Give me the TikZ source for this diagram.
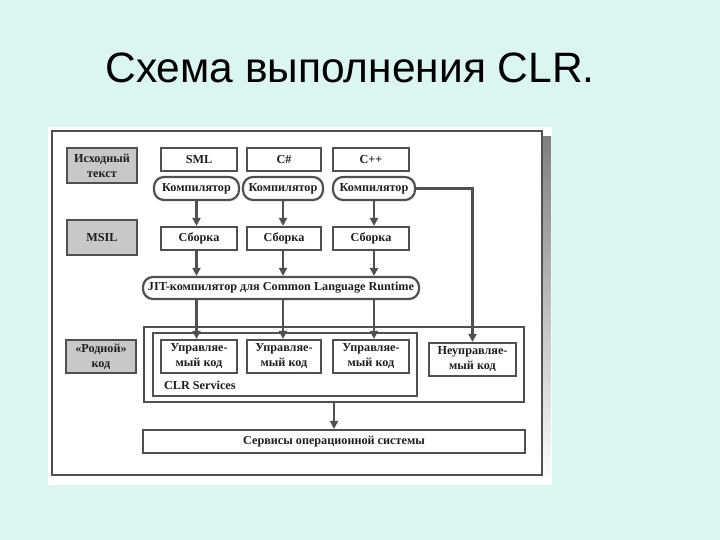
\documentclass[tikz,border=0pt]{standalone}
\usepackage{fontspec}
\setmainfont{Liberation Serif}
\newfontfamily\titlefont{Liberation Sans}
\usetikzlibrary{arrows.meta}
\definecolor{bg}{HTML}{DCF4F2}
\definecolor{line}{HTML}{505050}
\definecolor{lvlgray}{HTML}{C8C8C8}
\definecolor{shade}{HTML}{8C8C8C}
\definecolor{ink}{HTML}{1E1E1E}
\tikzset{
  blk/.style={draw=line, line width=2.2pt, fill=white, inner sep=0pt, align=center,
    text=ink, font=\bfseries\fontsize{12.2}{15}\selectfont},
  lvl/.style={blk, fill=lvlgray, minimum width=70pt},
  pill/.style={blk, rounded corners=10pt, minimum height=23pt},
  grp/.style={draw=line, line width=2.2pt, inner sep=0pt},
  arr/.style={draw=line, line width=2.2pt, -{Triangle[length=8pt,width=8pt]}}
}

\begin{document}
\begin{tikzpicture}[x=1pt, y=-1pt]
  \useasboundingbox (0,0) rectangle (720,540);
  \fill[bg] (0,0) rectangle (720,540);
  \node[font=\titlefont\fontsize{42.5}{42.5}\selectfont, anchor=base] (title) at (350,83) {Схема выполнения CLR.};

  % sheet with shadow
  \fill[white] (48,127) rectangle (552,485);
  \fill[shade] (58,137) rectangle (551,483);
  \draw[grp, fill=white] (52,131) rectangle (542,475);

  % level labels
  \node[lvl, minimum height=35pt] (src) at (102,165.5) {Исходный\\текст};
  \node[lvl, minimum height=35pt] (msil) at (102,237.5) {MSIL};
  \node[lvl, minimum height=33pt] (natlbl) at (101,356.5) {«Родной»\\код};

  % languages
  \node[blk, minimum width=76pt, minimum height=23pt] (sml) at (199,159.5) {SML};
  \node[blk, minimum width=74pt, minimum height=23pt] (cs) at (284,159.5) {C\#};
  \node[blk, minimum width=76pt, minimum height=23pt] (cpp) at (371,159.5) {C++};

  \node[pill, minimum width=85pt] (comp1) at (196.5,188.5) {Компилятор};
  \node[pill, minimum width=80pt] (comp2) at (283,188.5) {Компилятор};
  \node[pill, minimum width=82pt] (comp3) at (374,188.5) {Компилятор};

  % assemblies
  \node[blk, minimum width=76pt, minimum height=23pt] (asm1) at (199,238.5) {Сборка};
  \node[blk, minimum width=74pt, minimum height=23pt] (asm2) at (284,238.5) {Сборка};
  \node[blk, minimum width=76pt, minimum height=23pt] (asm3) at (371,238.5) {Сборка};

  \node[pill, minimum width=276pt, minimum height=22pt] (jit) at (281,288) {JIT-компилятор для Common Language Runtime};

  % native code
  \node[grp, fill=white, minimum width=380pt, minimum height=75pt] (nat) at (334,364.5) {};
  \node[grp, minimum width=264pt, minimum height=63pt] (clr) at (285,364.5) {};
  \node[blk, draw=none, fill=none, anchor=west] (clrtxt) at (163,385) {CLR Services};
  \node[blk, minimum width=76pt, minimum height=33pt] (man1) at (199,356.5) {Управляе-\\мый код};
  \node[blk, minimum width=74pt, minimum height=33pt] (man2) at (284,356.5) {Управляе-\\мый код};
  \node[blk, minimum width=76pt, minimum height=33pt] (man3) at (371,356.5) {Управляе-\\мый код};
  \node[blk, minimum width=87pt, minimum height=33pt] (unman) at (472.5,359.5) {Неуправляе-\\мый код};

  \node[blk, minimum width=382pt, minimum height=23pt] (os) at (334,441.5) {Сервисы операционной системы};

  % connectors
  \foreach \i in {1,2,3} {
    \draw[arr] (comp\i.south) -- (comp\i.south |- asm\i.north);
    \draw[arr] (comp\i.south |- asm\i.south) -- (comp\i.south |- jit.north);
    \draw[arr] (comp\i.south |- jit.south) -- (comp\i.south |- man\i.north);
  }
  \draw[arr] (comp3.east) -| (unman.north);
  \draw[arr] (nat.south) -- (os.north);
\end{tikzpicture}
\end{document}
